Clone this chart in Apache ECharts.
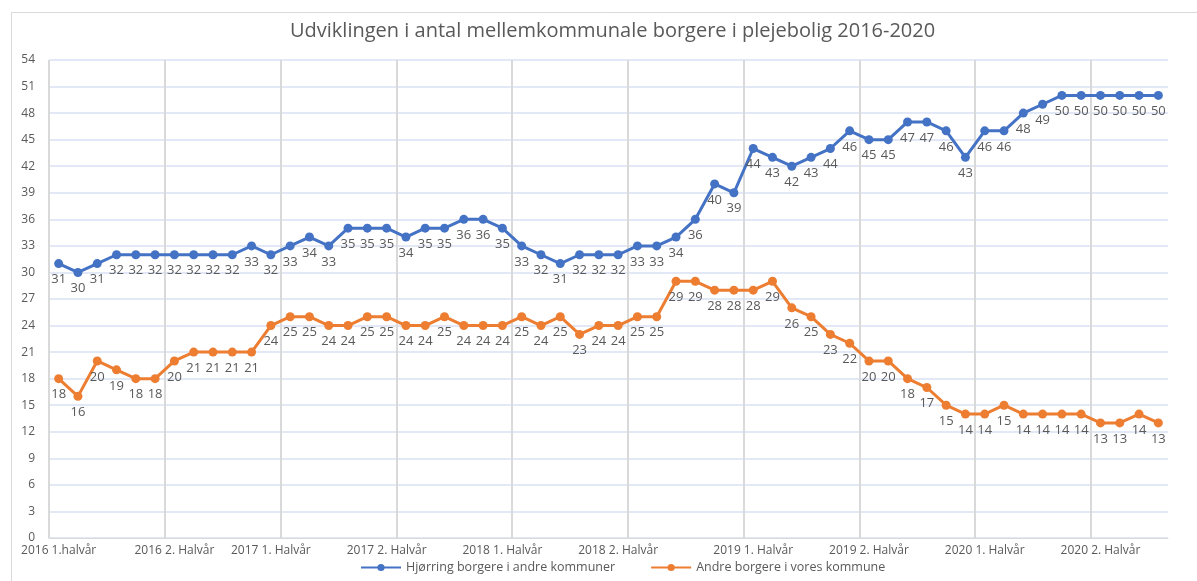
<!DOCTYPE html>
<html>
<head>
<meta charset="utf-8">
<script src="https://cdn.jsdelivr.net/npm/echarts@6/dist/echarts.min.js"></script>
<style>
html,body{margin:0;padding:0;background:#fff;}
#chart{width:1197px;height:581px;}
</style>
</head>
<body>
<div id="chart"></div>
<script>
const periodLabels = [
  '2016 1.halvår','','','','','',
  '2016 2. Halvår','','','','',
  '2017 1. Halvår','','','','','',
  '2017 2. Halvår','','','','','',
  '2018 1. Halvår','','','','','',
  '2018 2. Halvår','','','','','','',
  '2019 1. Halvår','','','','','',
  '2019 2. Halvår','','','','','',
  '2020 1. Halvår','','','','','',
  '2020 2. Halvår','','',''
];
const hjorringOther = [31,30,31,32,32,32,32,32,32,32,33,32,33,34,33,35,35,35,34,35,35,36,36,35,33,32,31,32,32,32,33,33,34,36,40,39,44,43,42,43,44,46,45,45,47,47,46,43,46,46,48,49,50,50,50,50,50,50];
const otherOurs = [18,16,20,19,18,18,20,21,21,21,21,24,25,25,24,24,25,25,24,24,25,24,24,24,25,24,25,23,24,24,25,25,29,29,28,28,28,29,26,25,23,22,20,20,18,17,15,14,14,15,14,14,14,14,13,13,14,13];
const yTicks = {min: 0, max: 54, interval: 3};
const gridEvery = 6;
const seriesNames = ['Hjørring borgere i andre kommuner', 'Andre borgere i vores kommune'];
const titleText = 'Udviklingen i antal mellemkommunale borgere i plejebolig 2016-2020';

const FONT = 'Open Sans';
const chart = echarts.init(document.getElementById('chart'), null, {renderer: 'canvas'});
const labelStyle = {show: true, position: 'bottom', distance: 5, color: '#595959', fontSize: 13, fontFamily: FONT};
chart.setOption({
  animation: false,
  backgroundColor: '#fff',
  graphic: [{
    type: 'rect', left: 9, top: 10, z: -1,
    shape: {width: 1300, height: 700},
    style: {fill: 'none', stroke: '#d9d9d9', lineWidth: 1}
  }],
  title: {
    text: titleText, left: 285, top: 16,
    textStyle: {fontFamily: FONT, fontSize: 20, fontWeight: 'normal', color: '#595959'}
  },
  legend: {
    bottom: 2, left: 355, itemGap: 35, itemWidth: 40, itemHeight: 9,
    textStyle: {fontFamily: FONT, fontSize: 12.5, color: '#595959'},
    data: seriesNames
  },
  grid: {left: 49, right: 29, top: 60, bottom: 43},
  xAxis: {
    type: 'category', data: periodLabels, boundaryGap: true,
    axisLine: {show: true, lineStyle: {color: '#d9d9d9', width: 1}},
    axisTick: {show: false},
    axisLabel: {interval: 0, color: '#595959', fontFamily: FONT, fontSize: 12, margin: 7},
    splitLine: {
      show: true, showMaxLine: false,
      interval: function (i) { return i % gridEvery === 0; },
      lineStyle: {color: '#d9d9d9', width: 2}
    }
  },
  yAxis: {
    type: 'value', min: yTicks.min, max: yTicks.max, interval: yTicks.interval,
    axisLine: {show: false}, axisTick: {show: false},
    axisLabel: {color: '#595959', fontFamily: FONT, fontSize: 12, margin: 14},
    splitLine: {lineStyle: {color: '#d9e1f2', width: 1.5}}
  },
  series: [
    {
      name: seriesNames[0], type: 'line', data: hjorringOther,
      symbol: 'circle', symbolSize: 9,
      itemStyle: {color: '#4472C4'}, lineStyle: {color: '#4472C4', width: 3},
      label: labelStyle
    },
    {
      name: seriesNames[1], type: 'line', data: otherOurs,
      symbol: 'circle', symbolSize: 9,
      itemStyle: {color: '#ED7D31'}, lineStyle: {color: '#ED7D31', width: 3},
      label: labelStyle
    }
  ]
});
</script>
</body>
</html>
